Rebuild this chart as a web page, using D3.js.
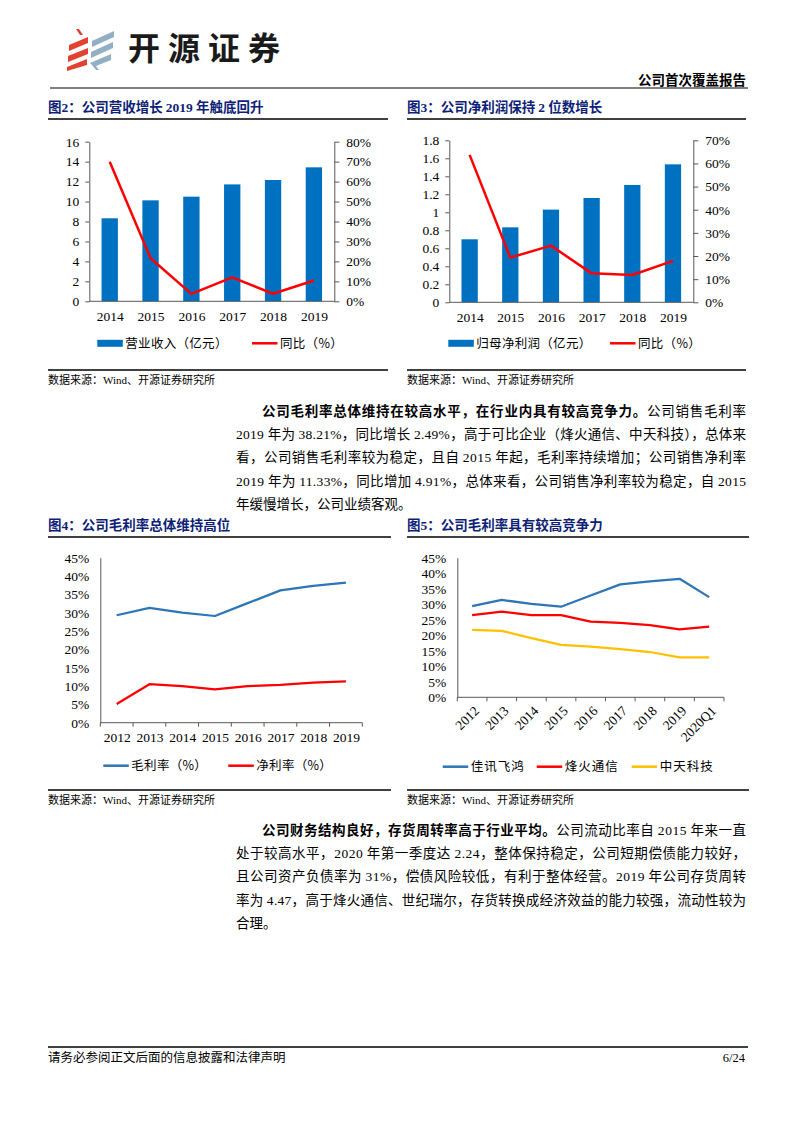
<!DOCTYPE html>
<html><head><meta charset="utf-8">
<script src="https://cdn.jsdelivr.net/npm/d3@7"></script>
<style>
body{margin:0;background:#fff}
svg{display:block}
</style></head><body>
<svg id="page" width="793" height="1122"></svg>
<script>
// ---------------- data ----------------
const years2 = ["2014","2015","2016","2017","2018","2019"];
const revenue = [8.32,10.12,10.49,11.72,12.16,13.43];
const revenueYoY = [70.0,21.6,3.7,12.0,3.8,10.4];
const revTicks = [0,2,4,6,8,10,12,14,16];
const revYoYTicks = [0,10,20,30,40,50,60,70,80];

const profit = [0.70,0.833,1.03,1.159,1.304,1.533];
const profitYoY = [63.7,19.3,24.5,12.5,11.8,17.9];
const profitTicks = [0,0.2,0.4,0.6,0.8,1,1.2,1.4,1.6,1.8];
const profitYoYTicks = [0,10,20,30,40,50,60,70];

const years4 = ["2012","2013","2014","2015","2016","2017","2018","2019"];
const grossMargin = [29.3,31.3,30.0,29.1,32.6,36.1,37.3,38.2];
const netMargin = [5.1,10.5,10.0,9.1,10.0,10.3,10.9,11.3];
const marginTicks = [0,5,10,15,20,25,30,35,40,45];

const periods5 = ["2012","2013","2014","2015","2016","2017","2018","2019","2020Q1"];
const jiaxun = [29.4,31.4,30.1,29.2,32.8,36.4,37.4,38.2,32.3];
const fiberhome = [26.5,27.6,26.5,26.5,24.4,24.0,23.3,21.9,22.8];
const zhongtian = [21.7,21.4,19.1,16.9,16.3,15.5,14.6,12.9,12.9];

// ---------------- styles ----------------
const SERIF = "'Liberation Serif','Times New Roman','Noto Sans CJK SC',serif";
const CJK = "'Noto Sans CJK SC','Liberation Serif',sans-serif";
const AX = "#595959";
const BLUE_BAR = "#0070C0", RED = "#FF0000", BLUE_LINE = "#2E75B6", YELLOW = "#FFC000";
const NAVY = "#0F1F78";

const svg = d3.select("#page");
svg.append("rect").attr("width",793).attr("height",1122).attr("fill","#fff");

// ---------------- header ----------------
const logo = svg.append("g");
const redPolys = [
  [[76,29],[79,29],[83,35],[80,35]],
  [[69,45],[88,37],[88,43],[69,51]],
  [[68,56],[88,48],[88,54],[68,62]],
  [[67,67],[87,59],[87,65],[67,71]]
];
const greyPolys = [
  [[92,41],[114,31],[114,37],[92,47]],
  [[91,52],[113,42],[113,48],[91,58]],
  [[90,63],[111,54],[111,60],[96,66],[99,70],[96,70],[92,65]]
];
logo.selectAll("polygon.r").data(redPolys).join("polygon").attr("points",d=>d.map(p=>p.join(",")).join(" ")).attr("fill","#E0432F");
logo.selectAll("polygon.g").data(greyPolys).join("polygon").attr("points",d=>d.map(p=>p.join(",")).join(" ")).attr("fill","#93AFC4");
svg.append("text").attr("x",128).attr("y",60).attr("font-family",CJK).attr("font-weight",700)
  .attr("font-size",32).attr("textLength",152).attr("lengthAdjust","spacing").attr("fill","#1a1a1a").text("开源证券");
svg.append("text").attr("x",746).attr("y",85).attr("text-anchor","end").attr("font-family",CJK).attr("font-weight",700)
  .attr("font-size",13.5).attr("fill","#000").text("公司首次覆盖报告");
svg.append("line").attr("x1",50).attr("x2",748).attr("y1",88).attr("y2",88).attr("stroke","#808080").attr("stroke-width",2);

// ---------------- helpers ----------------
function figTitle(x, y, x2, parts){
  const t = svg.append("text").attr("x",x).attr("y",y).attr("font-size",13.5).attr("font-weight",700).attr("fill",NAVY);
  parts.forEach(p=>t.append("tspan").attr("font-family",p[1]?SERIF:CJK).text(p[0]));
  svg.append("line").attr("x1",x).attr("x2",x2).attr("y1",y+7).attr("y2",y+7).attr("stroke","#000").attr("stroke-width",1.3);
}
function source(x, y, x2){
  svg.append("line").attr("x1",x).attr("x2",x2).attr("y1",y-10).attr("y2",y-10).attr("stroke","#000").attr("stroke-width",1.3);
  const t = svg.append("text").attr("x",x).attr("y",y+4).attr("font-size",11).attr("fill","#000").attr("font-family",CJK);
  t.append("tspan").text("数据来源：");
  t.append("tspan").attr("font-family",SERIF).text("Wind");
  t.append("tspan").text("、开源证券研究所");
}
function styleAxis(g){
  g.select(".domain").attr("stroke",AX).attr("stroke-width",1);
  g.selectAll(".tick line").attr("stroke",AX);
  g.selectAll("text").attr("font-family",SERIF).attr("font-size",13.5).attr("fill","#000");
}
function legendItem(g, x, y, type, color, label, ls){
  if(type==="rect") g.append("rect").attr("x",x).attr("y",y-3.5).attr("width",25.5).attr("height",7).attr("fill",color);
  else g.append("line").attr("x1",x).attr("x2",x+25.5).attr("y1",y).attr("y2",y).attr("stroke",color).attr("stroke-width",2.5);
  g.append("text").attr("x",x+28).attr("y",y+4.5).attr("font-family",CJK).attr("font-size",12.5)
   .attr("letter-spacing",ls||0.3).attr("fill","#000").text(label);
}

// ---------------- bar+line combo charts ----------------
function comboChart(o){
  const g = svg.append("g");
  const x = d3.scaleBand().domain(o.cats).range([o.x0,o.x1]).paddingInner(0.6).paddingOuter(0.3);
  const xp = d3.scalePoint().domain(o.cats).range([o.x0,o.x1]).padding(0.5);
  const yL = d3.scaleLinear().domain([0,d3.max(o.lTicks)]).range([o.yB,o.yT]);
  const yR = d3.scaleLinear().domain([0,d3.max(o.rTicks)]).range([o.yB,o.yT]);
  g.selectAll("rect.bar").data(o.bars).join("rect").attr("class","bar")
    .attr("x",(d,i)=>x(o.cats[i])).attr("width",x.bandwidth())
    .attr("y",d=>yL(d)).attr("height",d=>yL(0)-yL(d)).attr("fill",BLUE_BAR);
  const gl = g.append("g").attr("transform",`translate(${o.x0},0)`)
    .call(d3.axisLeft(yL).tickValues(o.lTicks).tickSize(4).tickSizeOuter(0).tickPadding(6).tickFormat(d=>String(d)));
  styleAxis(gl);
  const gr = g.append("g").attr("transform",`translate(${o.x1},0)`)
    .call(d3.axisRight(yR).tickValues(o.rTicks).tickSize(5).tickSizeOuter(0).tickPadding(7).tickFormat(d=>d+"%"));
  styleAxis(gr);
  const gb = g.append("g").attr("transform",`translate(0,${o.yB})`)
    .call(d3.axisBottom(xp).tickSize(0).tickPadding(10));
  gb.select(".domain").attr("d",`M${o.x0},0H${o.x1}`);
  styleAxis(gb);
  g.append("path").datum(o.line).attr("fill","none").attr("stroke",RED).attr("stroke-width",2.5)
    .attr("stroke-linejoin","round")
    .attr("d",d3.line().x((d,i)=>xp(o.cats[i])).y(d=>yR(d)));
  legendItem(g, o.lx1, o.ly, "rect", BLUE_BAR, o.l1);
  legendItem(g, o.lx2, o.ly, "line", RED, o.l2);
}

figTitle(48,112,388,[["图"],["2",1],["：公司营收增长 "],["2019",1],[" 年触底回升"]]);
comboChart({cats:years2,bars:revenue,line:revenueYoY,lTicks:revTicks,rTicks:revYoYTicks,
  x0:89.3,x1:334.3,yT:141.7,yB:301.3,lx1:97.3,lx2:252,ly:343.3,l1:"营业收入（亿元）",l2:"同比（%）"});
source(48,380,388);

figTitle(407,112,746,[["图"],["3",1],["：公司净利润保持 "],["2",1],[" 位数增长"]]);
comboChart({cats:years2,bars:profit,line:profitYoY,lTicks:profitTicks,rTicks:profitYoYTicks,
  x0:449.3,x1:693.3,yT:140.3,yB:302.3,lx1:448.3,lx2:610,ly:343.3,l1:"归母净利润（亿元）",l2:"同比（%）"});
source(407,380,746);

// ---------------- line charts ----------------
function lineChart(o){
  const g = svg.append("g");
  const xb = d3.scaleBand().domain(o.cats).range([o.x0,o.x1]);
  const xp = d3.scalePoint().domain(o.cats).range([o.x0,o.x1]).padding(0.5);
  const y = d3.scaleLinear().domain([0,d3.max(o.ticks)]).range([o.yB,o.yT]);
  const gl = g.append("g").attr("transform",`translate(${o.x0},0)`)
    .call(d3.axisLeft(y).tickValues(o.ticks).tickSize(0).tickPadding(11).tickFormat(d=>d+"%"));
  styleAxis(gl);
  const gb = g.append("g").attr("transform",`translate(0,${o.yB})`)
    .call(d3.axisBottom(xp).tickSize(0).tickPadding(10));
  gb.select(".domain").attr("d",`M${o.x0},0H${o.x1}`);
  styleAxis(gb);
  const bounds = o.cats.map(c=>xb(c)).concat([o.x1]);
  g.selectAll("line.bt").data(bounds).join("line").attr("x1",d=>d).attr("x2",d=>d)
    .attr("y1",o.yB).attr("y2",o.yB+4).attr("stroke",AX);
  if(o.rotate){
    gb.selectAll(".tick text").attr("text-anchor","end").attr("x",0).attr("y",0).attr("dy","0.35em")
      .attr("transform","translate(4,11) rotate(-45)");
  }
  o.series.forEach(s=>{
    g.append("path").datum(s.values).attr("fill","none").attr("stroke",s.color).attr("stroke-width",2.25)
      .attr("stroke-linejoin","round")
      .attr("d",d3.line().x((d,i)=>xp(o.cats[i])).y(d=>y(d)));
  });
  o.series.forEach(s=>legendItem(g, s.lx, o.ly, "line", s.color, s.name, s.ls));
}

figTitle(48,530,391,[["图"],["4",1],["：公司毛利率总体维持高位"]]);
lineChart({cats:years4,ticks:marginTicks,x0:100.3,x1:362.3,yT:557.7,yB:722.7,ly:765.7,
  series:[{name:"毛利率（%）",values:grossMargin,color:BLUE_LINE,lx:103.3},
          {name:"净利率（%）",values:netMargin,color:RED,lx:228.3}]});
source(48,800,391);

figTitle(407,530,749,[["图"],["5",1],["：公司毛利率具有较高竞争力"]]);
lineChart({cats:periods5,ticks:marginTicks,x0:457.3,x1:724,yT:557.7,yB:697.3,ly:766.7,rotate:true,
  series:[{name:"佳讯飞鸿",values:jiaxun,color:BLUE_LINE,lx:442.7,ls:1},
          {name:"烽火通信",values:fiberhome,color:RED,lx:536.7,ls:1},
          {name:"中天科技",values:zhongtian,color:YELLOW,lx:631.7,ls:1}]});
source(407,800,749);

// ---------------- paragraphs ----------------
function para(lines, y0){
  lines.forEach((ln,i)=>{
    const x = i===0 ? 262 : 236;
    const t = svg.append("text").attr("x",x).attr("y",y0+i*23.2).attr("font-size",13.5).attr("fill","#000");
    if(!ln.last) t.attr("textLength",746-x).attr("lengthAdjust","spacing");
    ln.parts.forEach(p=>{
      const s = t.append("tspan").text(p.t);
      s.attr("font-family", p.n ? SERIF : CJK);
      if(p.b) s.attr("font-weight",700);
    });
  });
}
para([
  {parts:[{t:"公司毛利率总体维持在较高水平，在行业内具有较高竞争力。",b:1},{t:"公司销售毛利率"}]},
  {parts:[{t:"2019 ",n:1},{t:"年为 "},{t:"38.21%",n:1},{t:"，同比增长 "},{t:"2.49%",n:1},{t:"，高于可比企业（烽火通信、中天科技），总体来"}]},
  {parts:[{t:"看，公司销售毛利率较为稳定，且自 "},{t:"2015",n:1},{t:" 年起，毛利率持续增加；公司销售净利率"}]},
  {parts:[{t:"2019 ",n:1},{t:"年为 "},{t:"11.33%",n:1},{t:"，同比增加 "},{t:"4.91%",n:1},{t:"，总体来看，公司销售净利率较为稳定，自 "},{t:"2015",n:1}]},
  {parts:[{t:"年缓慢增长，公司业绩客观。"}],last:1}
], 416);
para([
  {parts:[{t:"公司财务结构良好，存货周转率高于行业平均。",b:1},{t:"公司流动比率自 "},{t:"2015",n:1},{t:" 年来一直"}]},
  {parts:[{t:"处于较高水平，"},{t:"2020",n:1},{t:" 年第一季度达 "},{t:"2.24",n:1},{t:"，整体保持稳定，公司短期偿债能力较好，"}]},
  {parts:[{t:"且公司资产负债率为 "},{t:"31%",n:1},{t:"，偿债风险较低，有利于整体经营。"},{t:"2019",n:1},{t:" 年公司存货周转"}]},
  {parts:[{t:"率为 "},{t:"4.47",n:1},{t:"，高于烽火通信、世纪瑞尔，存货转换成经济效益的能力较强，流动性较为"}]},
  {parts:[{t:"合理。"}],last:1}
], 835);

// ---------------- footer ----------------
svg.append("line").attr("x1",48).attr("x2",748).attr("y1",1047).attr("y2",1047).attr("stroke","#000").attr("stroke-width",1.3);
svg.append("text").attr("x",48).attr("y",1062).attr("font-family",CJK).attr("font-size",12.5).attr("fill","#000")
  .text("请务必参阅正文后面的信息披露和法律声明");
svg.append("text").attr("x",745).attr("y",1062).attr("text-anchor","end").attr("font-family",SERIF).attr("font-size",12.5)
  .attr("fill","#000").text("6/24");
</script>
</body></html>
